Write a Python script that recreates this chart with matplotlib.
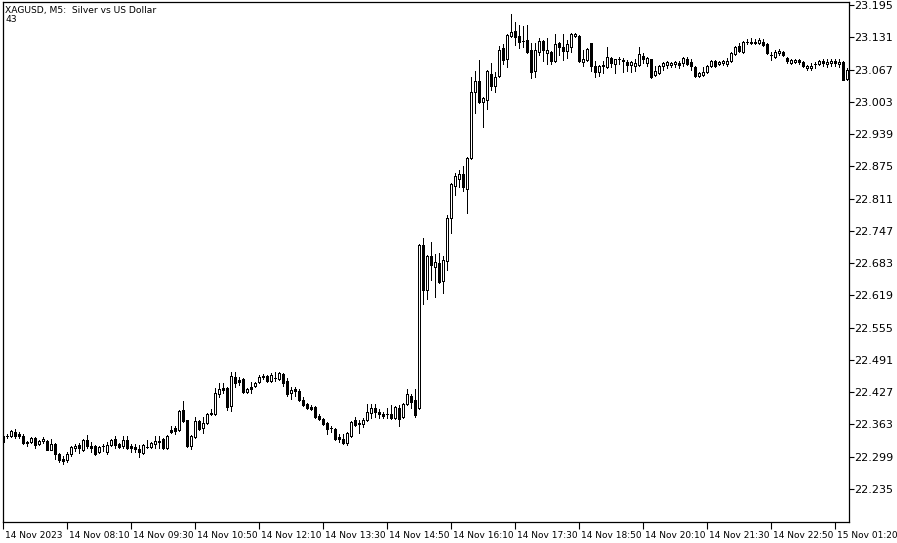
import numpy as np
import matplotlib.pyplot as plt
from matplotlib.transforms import ScaledTranslation

# XAGUSD M5 candles, 14 Nov 2023 06:50 onwards
opens = [
    22.340, 22.340, 22.340, 22.348, 22.344, 22.340, 22.328, 22.328, 22.336, 22.324,
    22.330, 22.330, 22.312, 22.324, 22.304, 22.294, 22.292, 22.304, 22.316, 22.322,
    22.312, 22.332, 22.320, 22.320, 22.308, 22.320, 22.308, 22.322, 22.334, 22.324,
    22.320, 22.332, 22.320, 22.318, 22.314, 22.306, 22.318, 22.318, 22.324, 22.330,
    22.334, 22.316, 22.352, 22.356, 22.352, 22.392, 22.372, 22.320, 22.338, 22.370,
    22.356, 22.366, 22.386, 22.384, 22.424, 22.436, 22.436, 22.400, 22.458, 22.452,
    22.454, 22.428, 22.438, 22.440, 22.448, 22.460, 22.460, 22.450, 22.456, 22.454,
    22.464, 22.450, 22.426, 22.434, 22.430, 22.412, 22.404, 22.398, 22.398, 22.380,
    22.374, 22.366, 22.356, 22.354, 22.338, 22.334, 22.326, 22.340, 22.372, 22.366,
    22.364, 22.372, 22.386, 22.396, 22.388, 22.384, 22.384, 22.384, 22.376, 22.396,
    22.378, 22.404, 22.420, 22.412, 22.396, 22.719, 22.629, 22.697, 22.675, 22.683,
    22.647, 22.687, 22.772, 22.836, 22.850, 22.860, 22.830, 22.892, 23.023, 23.045,
    23.003, 23.007, 23.059, 23.035, 23.055, 23.110, 23.087, 23.134, 23.144, 23.134,
    23.124, 23.126, 23.106, 23.065, 23.102, 23.124, 23.100, 23.102, 23.083, 23.120,
    23.112, 23.104, 23.112, 23.134, 23.134, 23.081, 23.086, 23.120, 23.073, 23.063,
    23.075, 23.071, 23.090, 23.077, 23.088, 23.086, 23.081, 23.075, 23.073, 23.075,
    23.094, 23.079, 23.087, 23.057, 23.061, 23.073, 23.075, 23.075, 23.077, 23.079,
    23.079, 23.088, 23.081, 23.071, 23.055, 23.057, 23.063, 23.073, 23.083, 23.077,
    23.079, 23.077, 23.083, 23.098, 23.114, 23.102, 23.122, 23.122, 23.122, 23.120,
    23.122, 23.118, 23.096, 23.092, 23.100, 23.102, 23.090, 23.079, 23.081, 23.086,
    23.081, 23.069, 23.069, 23.077, 23.077, 23.083, 23.077, 23.079, 23.083, 23.077,
    23.081, 23.049,
]
highs = [
    22.344, 22.344, 22.352, 22.354, 22.348, 22.344, 22.330, 22.338, 22.338, 22.332,
    22.338, 22.332, 22.334, 22.326, 22.306, 22.300, 22.308, 22.320, 22.324, 22.326,
    22.334, 22.342, 22.328, 22.322, 22.320, 22.324, 22.328, 22.334, 22.340, 22.326,
    22.340, 22.340, 22.324, 22.324, 22.322, 22.324, 22.332, 22.328, 22.340, 22.340,
    22.336, 22.342, 22.360, 22.360, 22.392, 22.410, 22.372, 22.342, 22.378, 22.372,
    22.378, 22.386, 22.394, 22.436, 22.446, 22.446, 22.438, 22.468, 22.468, 22.458,
    22.456, 22.436, 22.448, 22.448, 22.462, 22.464, 22.462, 22.466, 22.468, 22.468,
    22.466, 22.456, 22.438, 22.438, 22.434, 22.418, 22.406, 22.402, 22.400, 22.384,
    22.376, 22.368, 22.360, 22.356, 22.344, 22.344, 22.348, 22.370, 22.378, 22.372,
    22.376, 22.404, 22.404, 22.404, 22.394, 22.388, 22.396, 22.402, 22.400, 22.402,
    22.406, 22.434, 22.424, 22.434, 22.721, 22.733, 22.699, 22.725, 22.701, 22.703,
    22.697, 22.778, 22.842, 22.862, 22.868, 22.876, 22.894, 23.053, 23.065, 23.085,
    23.013, 23.067, 23.079, 23.063, 23.114, 23.118, 23.138, 23.178, 23.162, 23.156,
    23.154, 23.156, 23.120, 23.120, 23.130, 23.126, 23.130, 23.104, 23.138, 23.122,
    23.138, 23.126, 23.140, 23.140, 23.136, 23.106, 23.110, 23.120, 23.083, 23.075,
    23.083, 23.112, 23.092, 23.088, 23.092, 23.090, 23.085, 23.083, 23.087, 23.112,
    23.100, 23.092, 23.088, 23.073, 23.075, 23.081, 23.083, 23.081, 23.083, 23.083,
    23.092, 23.092, 23.087, 23.073, 23.063, 23.071, 23.075, 23.085, 23.085, 23.083,
    23.085, 23.090, 23.102, 23.114, 23.120, 23.124, 23.128, 23.130, 23.128, 23.130,
    23.128, 23.120, 23.102, 23.106, 23.108, 23.104, 23.092, 23.088, 23.088, 23.088,
    23.083, 23.075, 23.079, 23.081, 23.085, 23.087, 23.087, 23.088, 23.087, 23.087,
    23.083, 23.069,
]
lows = [
    22.326, 22.336, 22.338, 22.336, 22.336, 22.324, 22.320, 22.326, 22.316, 22.322,
    22.326, 22.312, 22.312, 22.294, 22.288, 22.284, 22.288, 22.300, 22.310, 22.306,
    22.310, 22.316, 22.308, 22.302, 22.306, 22.310, 22.304, 22.320, 22.316, 22.316,
    22.316, 22.314, 22.308, 22.308, 22.298, 22.304, 22.316, 22.316, 22.316, 22.316,
    22.314, 22.314, 22.346, 22.344, 22.350, 22.368, 22.318, 22.314, 22.336, 22.352,
    22.346, 22.364, 22.382, 22.382, 22.418, 22.426, 22.392, 22.390, 22.438, 22.442,
    22.426, 22.426, 22.426, 22.438, 22.446, 22.454, 22.448, 22.448, 22.450, 22.452,
    22.440, 22.420, 22.414, 22.420, 22.410, 22.400, 22.394, 22.392, 22.376, 22.372,
    22.362, 22.344, 22.348, 22.332, 22.328, 22.324, 22.322, 22.338, 22.360, 22.346,
    22.358, 22.370, 22.376, 22.378, 22.376, 22.376, 22.376, 22.374, 22.374, 22.360,
    22.376, 22.402, 22.396, 22.378, 22.394, 22.601, 22.611, 22.649, 22.615, 22.643,
    22.623, 22.669, 22.742, 22.818, 22.834, 22.826, 22.782, 22.890, 22.981, 23.001,
    22.953, 22.989, 23.027, 23.023, 23.053, 23.077, 23.071, 23.132, 23.116, 23.110,
    23.112, 23.100, 23.051, 23.053, 23.096, 23.083, 23.077, 23.077, 23.081, 23.096,
    23.086, 23.090, 23.102, 23.132, 23.081, 23.073, 23.083, 23.065, 23.053, 23.055,
    23.061, 23.069, 23.071, 23.061, 23.077, 23.063, 23.065, 23.063, 23.065, 23.073,
    23.079, 23.073, 23.051, 23.055, 23.059, 23.067, 23.069, 23.071, 23.071, 23.069,
    23.073, 23.075, 23.067, 23.053, 23.053, 23.055, 23.061, 23.071, 23.071, 23.075,
    23.075, 23.073, 23.081, 23.096, 23.102, 23.100, 23.118, 23.118, 23.118, 23.118,
    23.114, 23.098, 23.086, 23.090, 23.096, 23.094, 23.079, 23.077, 23.079, 23.077,
    23.071, 23.067, 23.067, 23.069, 23.075, 23.073, 23.071, 23.073, 23.073, 23.071,
    23.047, 23.047,
]
closes = [
    22.328, 22.340, 22.350, 22.340, 22.340, 22.326, 22.326, 22.336, 22.322, 22.330,
    22.334, 22.312, 22.324, 22.304, 22.292, 22.290, 22.304, 22.318, 22.320, 22.316,
    22.332, 22.320, 22.316, 22.304, 22.318, 22.320, 22.322, 22.332, 22.322, 22.318,
    22.332, 22.316, 22.316, 22.314, 22.308, 22.322, 22.318, 22.326, 22.330, 22.328,
    22.316, 22.340, 22.348, 22.350, 22.390, 22.370, 22.320, 22.340, 22.370, 22.354,
    22.366, 22.384, 22.384, 22.426, 22.434, 22.432, 22.398, 22.460, 22.446, 22.448,
    22.428, 22.434, 22.434, 22.446, 22.458, 22.458, 22.450, 22.462, 22.456, 22.466,
    22.446, 22.424, 22.432, 22.430, 22.412, 22.402, 22.396, 22.394, 22.378, 22.374,
    22.364, 22.354, 22.356, 22.334, 22.334, 22.326, 22.346, 22.368, 22.362, 22.364,
    22.372, 22.388, 22.396, 22.388, 22.384, 22.380, 22.384, 22.376, 22.398, 22.374,
    22.404, 22.424, 22.408, 22.382, 22.719, 22.629, 22.697, 22.679, 22.685, 22.645,
    22.689, 22.772, 22.840, 22.856, 22.860, 22.834, 22.892, 23.023, 23.045, 23.003,
    23.011, 23.065, 23.035, 23.053, 23.106, 23.085, 23.136, 23.142, 23.132, 23.122,
    23.124, 23.102, 23.063, 23.106, 23.124, 23.106, 23.106, 23.083, 23.118, 23.112,
    23.104, 23.118, 23.138, 23.138, 23.083, 23.087, 23.108, 23.073, 23.063, 23.073,
    23.073, 23.092, 23.079, 23.087, 23.088, 23.083, 23.075, 23.081, 23.079, 23.098,
    23.088, 23.090, 23.053, 23.065, 23.073, 23.079, 23.081, 23.079, 23.081, 23.075,
    23.090, 23.077, 23.073, 23.055, 23.061, 23.063, 23.073, 23.083, 23.073, 23.081,
    23.083, 23.083, 23.100, 23.112, 23.104, 23.122, 23.122, 23.120, 23.120, 23.126,
    23.116, 23.100, 23.096, 23.102, 23.104, 23.096, 23.083, 23.086, 23.086, 23.081,
    23.073, 23.073, 23.073, 23.077, 23.083, 23.079, 23.081, 23.083, 23.079, 23.081,
    23.047, 23.067,
]

# time axis labels (one every 16 bars)
time_ticks = [0, 16, 32, 48, 64, 80, 96, 112, 128, 144, 160, 176, 192, 208]
time_labels = ['14 Nov 2023', '14 Nov 08:10', '14 Nov 09:30', '14 Nov 10:50',
               '14 Nov 12:10', '14 Nov 13:30', '14 Nov 14:50', '14 Nov 16:10',
               '14 Nov 17:30', '14 Nov 18:50', '14 Nov 20:10', '14 Nov 21:30',
               '14 Nov 22:50', '15 Nov 01:20']

price_ticks = [22.235, 22.299, 22.363, 22.427, 22.491, 22.555, 22.619, 22.683,
               22.747, 22.811, 22.875, 22.939, 23.003, 23.067, 23.131, 23.195]

o = np.array(opens)
h = np.array(highs)
l = np.array(lows)
c = np.array(closes)
x = np.arange(len(o))
bull = c >= o

fig = plt.figure(figsize=(8.97, 5.43), dpi=100)
ax = fig.add_axes([2.5 / 897, 21 / 543, 846.5 / 897, 520 / 543])

# wicks then bodies (1 px lines)
ax.vlines(x, l, h, color='black', linewidth=0.72, zorder=1, antialiased=False)
ax.bar(x, np.abs(c - o), width=0.5, bottom=np.minimum(o, c),
       color=np.where(bull, 'white', 'black'), edgecolor='black',
       linewidth=0.72, zorder=2, antialiased=False)

ax.set_xlim(-0.125, 211.5)
ax.set_ylim(22.1695, 23.2009)

for sp in ax.spines.values():
    sp.set_color('black')
    sp.set_linewidth(0.9)

ax.yaxis.tick_right()
ax.set_yticks(price_ticks)
ax.set_yticklabels([f'{p:.3f}' for p in price_ticks])
ax.tick_params(axis='y', direction='out', length=3.5, width=0.8, labelsize=8.0, pad=0.5)

ax.set_xticks(time_ticks)
ax.set_xticklabels(time_labels)
ax.tick_params(axis='x', direction='out', length=5, width=0.8, labelsize=6.5, pad=1.5)
offset = ScaledTranslation(2 / 100, 0, fig.dpi_scale_trans)
for lbl in ax.get_xticklabels():
    lbl.set_horizontalalignment('left')
    lbl.set_transform(lbl.get_transform() + offset)

fig.text(5 / 897, 1 - 10 / 543, 'XAGUSD, M5:  Silver vs US Dollar', fontsize=6.6, va='center', ha='left')
fig.text(5 / 897, 1 - 20 / 543, '43', fontsize=6.6, va='center', ha='left')

fig.savefig('out.png', dpi=100)
